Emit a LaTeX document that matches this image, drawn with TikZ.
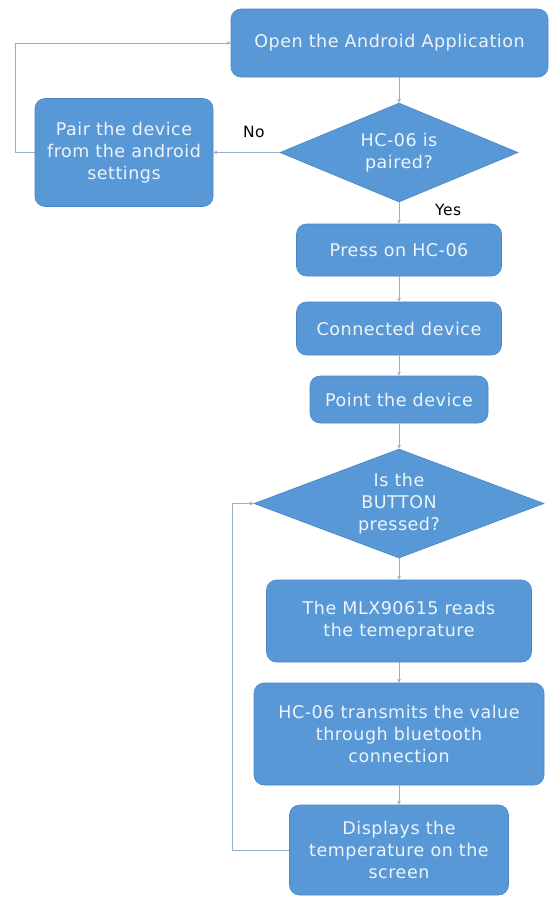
\documentclass[tikz,border=0pt]{standalone}
\usepackage{fontspec}
\setmainfont{DejaVu Sans}[LetterSpace=3]
\usetikzlibrary{shapes.geometric,arrows.meta}
\definecolor{boxblue}{RGB}{88,152,214}
\definecolor{boxedge}{RGB}{74,134,197}
\definecolor{boxtext}{RGB}{238,244,250}
\definecolor{linecol}{RGB}{150,174,200}
\begin{document}
\begin{tikzpicture}[x=1pt,y=-1pt,
  every node/.style={font=\fontsize{17.5}{22}\selectfont},
  procbox/.style={draw=boxedge,line width=0.6pt,fill=boxblue,rounded corners=10pt,
     text=boxtext,align=center,inner sep=2pt},
  decbox/.style={draw=boxedge,line width=0.6pt,fill=boxblue,shape=diamond,aspect=2.5,
     text=boxtext,align=center,inner sep=0pt},
  conn/.style={draw=linecol,line width=0.9pt},
  arr/.style={conn,-{Stealth[length=4pt,width=4pt]}},
  lab/.style={text=black,font=\fontsize{15.5}{18}\selectfont,inner sep=0pt}
]
\useasboundingbox (0,0) rectangle (549,900);
\fill[white] (0,0) rectangle (549,900);

\node[procbox,minimum width=317pt,minimum height=68pt] (open) at (389.5,43) {Open the Android Application};
\node[decbox,minimum width=238pt,minimum height=99pt] (paired) at (399,152.5) {HC-06 is\\paired?};
\node[procbox,minimum width=178pt,minimum height=108pt] (pair) at (124,152.5) {Pair the device\\from the android\\settings};
\node[procbox,minimum width=205pt,minimum height=52pt] (press) at (399,250) {Press on HC-06};
\node[procbox,minimum width=205pt,minimum height=53pt] (conn) at (399,328.5) {Connected device};
\node[procbox,minimum width=178pt,minimum height=47pt] (point) at (399,399.5) {Point the device};
\node[decbox,minimum width=290pt,minimum height=109pt] (button) at (399,503.5) {Is the\\BUTTON\\pressed?};
\node[procbox,minimum width=265pt,minimum height=82pt] (reads) at (399,621) {The MLX90615 reads\\the temeprature};
\node[procbox,minimum width=290pt,minimum height=102pt] (trans) at (399,734) {HC-06 transmits the value\\through bluetooth\\connection};
\node[procbox,minimum width=219pt,minimum height=90pt] (disp) at (399,850) {Displays the\\temperature on the\\screen};

\node[lab,anchor=west] (nolab) at (243,132) {No};
\node[lab,anchor=west] (yeslab) at (435,210) {Yes};

\coordinate (lt) at (15,43);
\coordinate (lb) at (232,850);

\draw[arr] (open.south -| paired.north) -- (paired.north);
\draw[arr] (paired.west) -- (pair.east);
\draw[arr] (pair.west) -| (lt) -- (open.west);
\draw[arr] (paired.south) -- (press.north);
\draw[arr] (press.south) -- (conn.north);
\draw[arr] (conn.south) -- (point.north);
\draw[arr] (point.south) -- (button.north);
\draw[arr] (button.south) -- (reads.north);
\draw[arr] (reads.south) -- (trans.north);
\draw[arr] (trans.south) -- (disp.north);
\draw[arr] (disp.west) -- (disp.west -| lb) |- (button.west);
\end{tikzpicture}
\end{document}
